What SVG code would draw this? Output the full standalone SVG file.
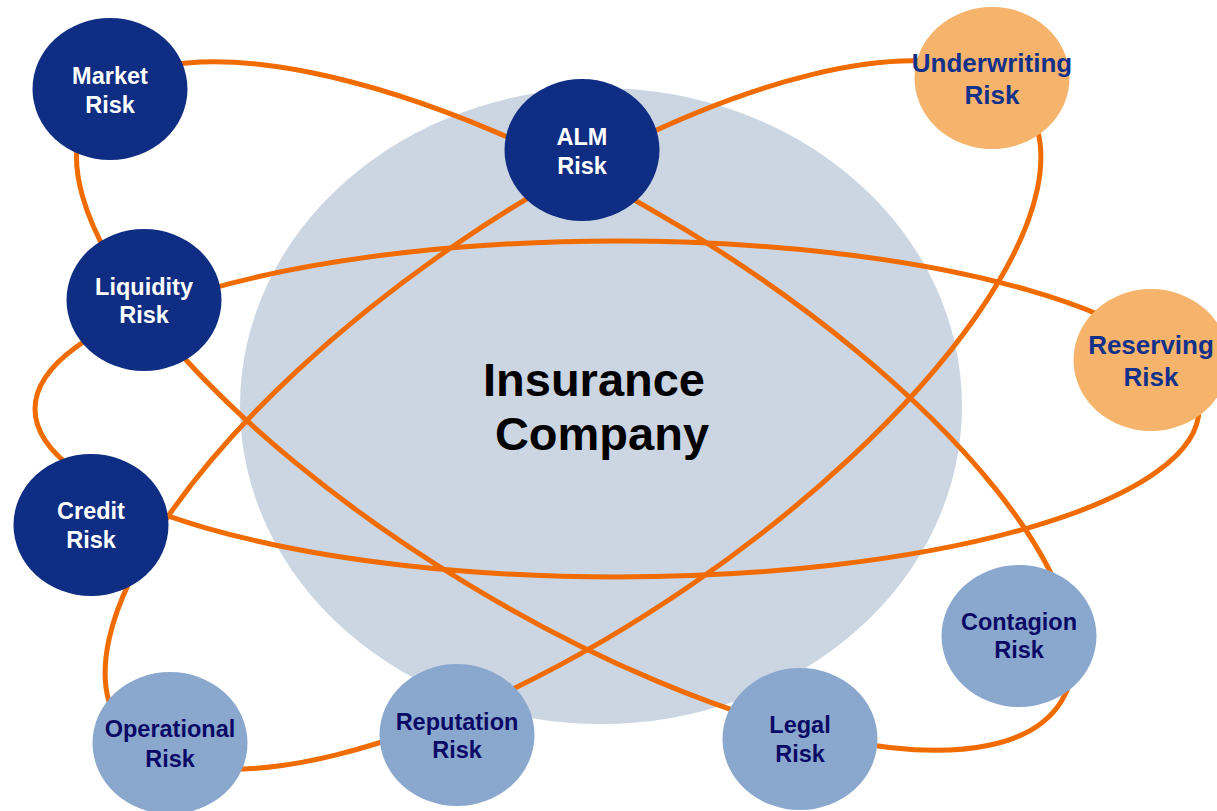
<svg xmlns="http://www.w3.org/2000/svg" width="1217" height="811" viewBox="0 0 1217 811">
  <style>
    .orbit { fill: none; stroke: #F06C00; stroke-width: 5; }
    .dark { fill: #0E2D83; }
    .warm { fill: #F5B36B; }
    .light { fill: #8AA7CD; }
    text { font-family: "Liberation Sans", Arial, sans-serif; font-weight: bold; text-anchor: middle; }
    .t-dark { fill: #FFFFFF; font-size: 23.5px; }
    .t-warm { fill: #12318A; font-size: 26px; }
    .t-light { fill: #0A0A66; font-size: 23.5px; }
    .core-text { fill: #000000; font-size: 47px; }
  </style>

  <rect width="1217" height="811" fill="#FFFFFF"/>

  <!-- central company -->
  <g id="insurance-company">
    <ellipse cx="601" cy="406" rx="361" ry="318" fill="#CCD6E3"/>
  </g>

  <!-- orbit connectors -->
  <g id="connectors">
    <ellipse class="orbit" cx="575" cy="406" rx="569" ry="208" transform="rotate(31.2 575 406)"/>
    <ellipse class="orbit" cx="573" cy="415" rx="549" ry="207" transform="rotate(-34.4 573 415)"/>
    <ellipse class="orbit" cx="617" cy="409" rx="582" ry="168"/>
  </g>

  <g id="insurance-company-label">
    <text class="core-text" x="594" y="396">Insurance</text>
    <text class="core-text" x="602" y="450">Company</text>
  </g>

  <g id="market-risk">
    <ellipse class="dark" cx="110" cy="89" rx="77.5" ry="71"/>
    <text class="t-dark" x="110" y="84">Market</text>
    <text class="t-dark" x="110" y="113">Risk</text>
  </g>

  <g id="alm-risk">
    <ellipse class="dark" cx="582" cy="150" rx="77.5" ry="71"/>
    <text class="t-dark" x="582" y="145">ALM</text>
    <text class="t-dark" x="582" y="174">Risk</text>
  </g>

  <g id="underwriting-risk">
    <ellipse class="warm" cx="992" cy="78" rx="77.5" ry="71"/>
    <text class="t-warm" x="992" y="72">Underwriting</text>
    <text class="t-warm" x="992" y="104">Risk</text>
  </g>

  <g id="liquidity-risk">
    <ellipse class="dark" cx="144" cy="300" rx="77.5" ry="71"/>
    <text class="t-dark" x="144" y="295">Liquidity</text>
    <text class="t-dark" x="144" y="323">Risk</text>
  </g>

  <g id="reserving-risk">
    <ellipse class="warm" cx="1151" cy="360" rx="77.5" ry="71"/>
    <text class="t-warm" x="1151" y="354">Reserving</text>
    <text class="t-warm" x="1151" y="386">Risk</text>
  </g>

  <g id="credit-risk">
    <ellipse class="dark" cx="91" cy="525" rx="77.5" ry="71"/>
    <text class="t-dark" x="91" y="519">Credit</text>
    <text class="t-dark" x="91" y="548">Risk</text>
  </g>

  <g id="contagion-risk">
    <ellipse class="light" cx="1019" cy="636" rx="77.5" ry="71"/>
    <text class="t-light" x="1019" y="630">Contagion</text>
    <text class="t-light" x="1019" y="658">Risk</text>
  </g>

  <g id="operational-risk">
    <ellipse class="light" cx="170" cy="743" rx="77.5" ry="71"/>
    <text class="t-light" x="170" y="737">Operational</text>
    <text class="t-light" x="170" y="767">Risk</text>
  </g>

  <g id="reputation-risk">
    <ellipse class="light" cx="457" cy="735" rx="77.5" ry="71"/>
    <text class="t-light" x="457" y="730">Reputation</text>
    <text class="t-light" x="457" y="758">Risk</text>
  </g>

  <g id="legal-risk">
    <ellipse class="light" cx="800" cy="739" rx="77.5" ry="71"/>
    <text class="t-light" x="800" y="733">Legal</text>
    <text class="t-light" x="800" y="762">Risk</text>
  </g>
</svg>
